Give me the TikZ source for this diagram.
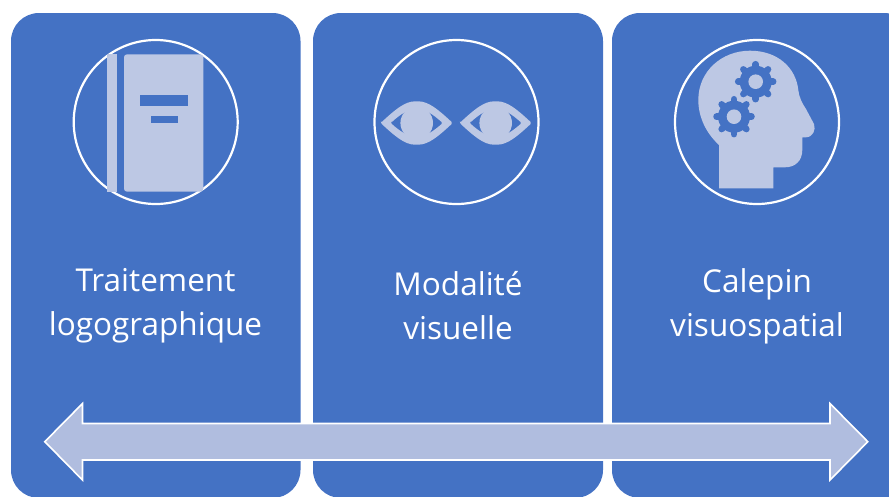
\documentclass[tikz,border=0pt]{standalone}
\usepackage{fontspec}
\setmainfont{Open Sans}
\definecolor{cardblue}{HTML}{4472C4}
\definecolor{iconblue}{HTML}{BDC8E4}
\definecolor{arrowblue}{HTML}{B0BDDF}
\begin{document}
\begin{tikzpicture}
  [x=1pt,y=-1pt,
   card/.style={rectangle,fill=cardblue,rounded corners=28pt,inner sep=0pt,outer sep=0pt,minimum height=485pt},
   ring/.style={circle,draw=white,line width=2.2pt,inner sep=0pt,minimum size=164pt},
   caption/.style={text=white,align=center,font=\fontsize{31.5}{44}\selectfont},
   icon/.style={fill=iconblue}]
  \useasboundingbox (0,0) rectangle (889,496);
  \clip (0,0) rectangle (889,496);

  \node[card,minimum width=289.5pt] (a) at (155.75,255.5) {};
  \node[card,minimum width=290pt] (b) at (458,255.5) {};
  \node[card,minimum width=300pt] (c) at (762,255.5) {};

  \node[ring] (ringa) at (155.7,122) {};
  \node[ring] (ringb) at (456.5,122) {};
  \node[ring] (ringc) at (757,122) {};

  \node[caption] (texta) at (155.5,306) {Traitement\\logographique};
  \node[caption] (textb) at (458,306) {Modalité\\visuelle};
  \node[caption] (textc) at (757,306) {Calepin\\visuospatial};

  % book
  \fill[icon] (107.3,54.3) rectangle (117.3,191.7);
  \fill[icon,rounded corners=3pt] (124,54.3) -- (203.3,54.3) -- (203.3,191.7) -- (124,191.7) -- cycle;
  \fill[cardblue] (139.7,95.3) rectangle (188,106);
  \fill[cardblue] (150.7,116) rectangle (177.7,123);

  % eyes
  \foreach \x in {416.7,495.7} {
    \fill[icon,even odd rule,rounded corners=1.5pt]
      (\x-36,123) .. controls (\x-22,110) and (\x-12,101.3) .. (\x,101.3)
      .. controls (\x+12,101.3) and (\x+22,110) .. (\x+36,123)
      .. controls (\x+22,136) and (\x+12,144.7) .. (\x,144.7)
      .. controls (\x-12,144.7) and (\x-22,136) .. (\x-36,123) -- cycle
      (\x-26,123) .. controls (\x-16,114) and (\x-8,109) .. (\x,109)
      .. controls (\x+8,109) and (\x+16,114) .. (\x+26,123)
      .. controls (\x+16,132) and (\x+8,136.5) .. (\x,136.5)
      .. controls (\x-8,136.5) and (\x-16,132) .. (\x-26,123) -- cycle;
    \fill[icon] (\x,123) circle (16.3);
  }

  % head
  \fill[icon] (719,188.3) -- (719,145)
    .. controls (706,133) and (698.3,117) .. (698.3,100)
    .. controls (698.3,71) and (722,50.7) .. (750,50.7)
    .. controls (778,50.7) and (796,68) .. (798.3,90)
    .. controls (799,97) and (802,103) .. (806,109)
    -- (814,124) .. controls (816,130) and (813,137) .. (806,137.3)
    -- (802.3,137.3) -- (802.3,150)
    .. controls (802.3,161) and (795,167.3) .. (785,167.3)
    -- (773.3,167.3) -- (773.3,188.3) -- cycle;

  % gears
  \foreach \gx/\gy in {755.7/81.7,734/116.7} {
    \fill[cardblue] (\gx,\gy) circle (16);
    \foreach \t in {0,45,...,315}
      \draw[cardblue,line width=6.5pt,line cap=round] (\gx,\gy) -- ++(\t:17.5);
    \fill[icon] (\gx,\gy) circle (7.3);
  }

  % arrow
  \filldraw[fill=arrowblue,draw=white,line width=1.6pt,miter limit=10]
    (44.8,441.7) -- (82.5,403.5) -- (82.5,423.5) -- (830,423.5) -- (830,403.5)
    -- (867.8,441.7) -- (830,480) -- (830,460) -- (82.5,460) -- (82.5,480) -- cycle;
\end{tikzpicture}
\end{document}
